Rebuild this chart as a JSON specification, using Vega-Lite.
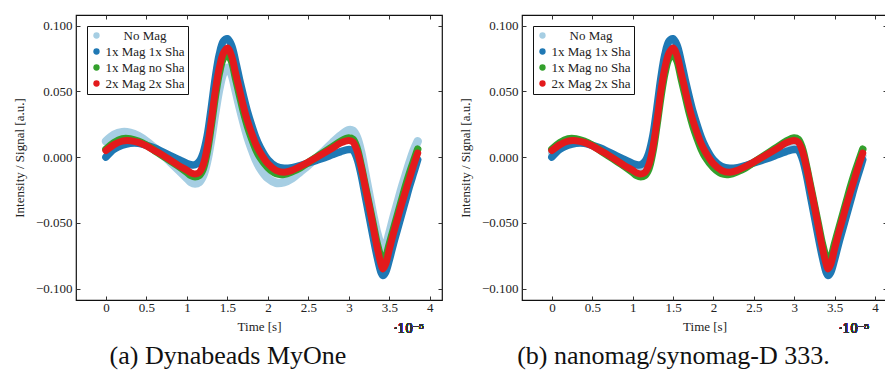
{
  "$schema": "https://vega.github.io/schema/vega-lite/v6.json",
  "padding": {"left": 12, "top": 13, "right": 0, "bottom": 0},
  "datasets": {
    "d": [
      {"t":0,"na":0.012,"nb":0.003,"b":0.000,"g":0.006,"r":0.005},
      {"t":0.1,"na":0.017,"nb":0.008,"b":0.006,"g":0.011,"r":0.0095},
      {"t":0.2,"na":0.019,"nb":0.011,"b":0.009,"g":0.0138,"r":0.0122},
      {"t":0.3,"na":0.0185,"nb":0.0117,"b":0.0105,"g":0.0138,"r":0.0125},
      {"t":0.4,"na":0.016,"nb":0.011,"b":0.0105,"g":0.012,"r":0.0112},
      {"t":0.5,"na":0.012,"nb":0.0087,"b":0.009,"g":0.009,"r":0.0085},
      {"t":0.6,"na":0.007,"nb":0.006,"b":0.007,"g":0.005,"r":0.005},
      {"t":0.7,"na":0.002,"nb":0.0025,"b":0.004,"g":0.001,"r":0.0015},
      {"t":0.8,"na":-0.004,"nb":-0.001,"b":0.001,"g":-0.003,"r":-0.0025},
      {"t":0.9,"na":-0.010,"nb":-0.0047,"b":-0.002,"g":-0.007,"r":-0.0065},
      {"t":1.0,"na":-0.016,"nb":-0.008,"b":-0.0048,"g":-0.0115,"r":-0.010},
      {"t":1.05,"na":-0.019,"nb":-0.0095,"b":-0.0058,"g":-0.014,"r":-0.012},
      {"t":1.1,"na":-0.020,"nb":-0.010,"b":-0.0058,"g":-0.015,"r":-0.0128},
      {"t":1.15,"na":-0.019,"nb":-0.0085,"b":-0.0035,"g":-0.014,"r":-0.0118},
      {"t":1.2,"na":-0.014,"nb":-0.003,"b":0.003,"g":-0.009,"r":-0.006},
      {"t":1.25,"na":-0.003,"nb":0.011,"b":0.016,"g":0.004,"r":0.007},
      {"t":1.3,"na":0.014,"nb":0.031,"b":0.037,"g":0.024,"r":0.027},
      {"t":1.35,"na":0.034,"nb":0.054,"b":0.060,"g":0.046,"r":0.050},
      {"t":1.4,"na":0.052,"nb":0.072,"b":0.078,"g":0.064,"r":0.068},
      {"t":1.45,"na":0.064,"nb":0.083,"b":0.088,"g":0.075,"r":0.079},
      {"t":1.5,"na":0.068,"nb":0.086,"b":0.090,"g":0.078,"r":0.083},
      {"t":1.55,"na":0.063,"nb":0.080,"b":0.085,"g":0.073,"r":0.077},
      {"t":1.6,"na":0.051,"nb":0.068,"b":0.073,"g":0.060,"r":0.064},
      {"t":1.65,"na":0.038,"nb":0.054,"b":0.059,"g":0.047,"r":0.051},
      {"t":1.7,"na":0.026,"nb":0.041,"b":0.046,"g":0.034,"r":0.038},
      {"t":1.75,"na":0.015,"nb":0.030,"b":0.034,"g":0.023,"r":0.027},
      {"t":1.8,"na":0.006,"nb":0.020,"b":0.024,"g":0.014,"r":0.018},
      {"t":1.85,"na":-0.002,"nb":0.012,"b":0.015,"g":0.006,"r":0.010},
      {"t":1.9,"na":-0.008,"nb":0.0055,"b":0.008,"g":0.000,"r":0.004},
      {"t":2.0,"na":-0.016,"nb":-0.0038,"b":-0.002,"g":-0.008,"r":-0.005},
      {"t":2.1,"na":-0.0195,"nb":-0.0088,"b":-0.007,"g":-0.0125,"r":-0.010},
      {"t":2.2,"na":-0.019,"nb":-0.010,"b":-0.0085,"g":-0.013,"r":-0.0115},
      {"t":2.3,"na":-0.016,"nb":-0.0092,"b":-0.008,"g":-0.011,"r":-0.010},
      {"t":2.4,"na":-0.011,"nb":-0.0068,"b":-0.0065,"g":-0.008,"r":-0.007},
      {"t":2.5,"na":-0.006,"nb":-0.004,"b":-0.0045,"g":-0.004,"r":-0.0038},
      {"t":2.6,"na":-0.0005,"nb":-0.0012,"b":-0.0025,"g":0.000,"r":-0.0003},
      {"t":2.7,"na":0.005,"nb":0.0017,"b":-0.0005,"g":0.004,"r":0.0033},
      {"t":2.8,"na":0.011,"nb":0.005,"b":0.002,"g":0.008,"r":0.007},
      {"t":2.9,"na":0.0165,"nb":0.0082,"b":0.0042,"g":0.012,"r":0.0108},
      {"t":3.0,"na":0.0205,"nb":0.0098,"b":0.0058,"g":0.0145,"r":0.0127},
      {"t":3.05,"na":0.020,"nb":0.009,"b":0.0052,"g":0.0135,"r":0.0115},
      {"t":3.1,"na":0.015,"nb":0.0025,"b":-0.001,"g":0.007,"r":0.005},
      {"t":3.15,"na":0.004,"nb":-0.0095,"b":-0.013,"g":-0.006,"r":-0.007},
      {"t":3.2,"na":-0.012,"nb":-0.025,"b":-0.029,"g":-0.021,"r":-0.022},
      {"t":3.25,"na":-0.028,"nb":-0.040,"b":-0.045,"g":-0.036,"r":-0.037},
      {"t":3.3,"na":-0.044,"nb":-0.056,"b":-0.061,"g":-0.051,"r":-0.053},
      {"t":3.35,"na":-0.058,"nb":-0.072,"b":-0.076,"g":-0.066,"r":-0.069},
      {"t":3.4,"na":-0.068,"nb":-0.084,"b":-0.088,"g":-0.077,"r":-0.082},
      {"t":3.42,"na":-0.070,"nb":-0.087,"b":-0.090,"g":-0.079,"r":-0.085},
      {"t":3.45,"na":-0.068,"nb":-0.085,"b":-0.088,"g":-0.077,"r":-0.082},
      {"t":3.5,"na":-0.058,"nb":-0.073,"b":-0.078,"g":-0.066,"r":-0.070},
      {"t":3.55,"na":-0.046,"nb":-0.061,"b":-0.066,"g":-0.055,"r":-0.058},
      {"t":3.6,"na":-0.035,"nb":-0.050,"b":-0.055,"g":-0.044,"r":-0.047},
      {"t":3.65,"na":-0.024,"nb":-0.039,"b":-0.044,"g":-0.033,"r":-0.036},
      {"t":3.7,"na":-0.014,"nb":-0.029,"b":-0.033,"g":-0.022,"r":-0.026},
      {"t":3.75,"na":-0.004,"nb":-0.018,"b":-0.022,"g":-0.012,"r":-0.016},
      {"t":3.8,"na":0.005,"nb":-0.008,"b":-0.012,"g":-0.003,"r":-0.006},
      {"t":3.85,"na":0.012,"nb":0.001,"b":-0.002,"g":0.006,"r":0.003}
    ]
  },
  "config": {
    "font": "Liberation Serif, Times New Roman, serif",
    "view": {"stroke": "#111", "strokeWidth": 1.2},
    "axis": {
      "labelFont": "Liberation Serif, Times New Roman, serif", "titleFont": "Liberation Serif, Times New Roman, serif",
      "labelFontSize": 13, "titleFontSize": 13, "titleFontWeight": "normal",
      "labelColor": "#222", "titleColor": "#222", "tickColor": "#333",
      "tickSize": -4, "tickWidth": 1, "domain": false, "grid": false, "labelPadding": 8
    },
    "axisX": {"labelPadding": 5},
    "legend": {
      "orient": "top-left", "offset": 11, "strokeColor": "#111", "strokeWidth": 1,
      "fillColor": "white", "padding": 3, "labelFont": "Liberation Serif, Times New Roman, serif",
      "labelFontSize": 13, "labelColor": "#222", "symbolType": "circle",
      "symbolSize": 40, "rowPadding": 2, "labelOffset": 42, "labelAlign": "center", "cornerRadius": 0
    },
    "title": {"font": "Liberation Serif, Times New Roman, serif", "fontSize": 26, "fontWeight": "normal", "color": "#111"}
  },
  "bounds": "flush",
  "spacing": 80,
  "resolve": {"legend": {"color": "independent"}},
  "hconcat": [
    {
      "width": 366, "height": 285,
      "title": {"text": "(a) Dynabeads MyOne", "orient": "bottom", "anchor": "middle", "frame": "bounds", "offset": 8},
      "data": {"name": "d"},
      "layer": [
        {"mark": {"type": "line", "strokeWidth": 8.5, "interpolate": "catmull-rom", "strokeCap": "round", "strokeJoin": "round"},
         "encoding": {
           "x": {"field": "t", "type": "quantitative", "scale": {"domain": [-0.37, 4.15], "nice": false, "zero": false},
                 "axis": {"values": [0,0.5,1,1.5,2,2.5,3,3.5,4], "format": "~g", "title": "Time [s]", "titlePadding": 6}},
           "y": {"field": "na", "type": "quantitative", "scale": {"domain": [-0.1086, 0.108], "nice": false, "zero": false},
                 "axis": {"values": [-0.1,-0.05,0,0.05,0.1], "format": ".3f", "title": "Intensity / Signal [a.u.]", "titlePadding": 9}},
           "color": {"datum": "No Mag", "type": "nominal",
                     "scale": {"domain": ["No Mag","1x Mag 1x Sha","1x Mag no Sha","2x Mag 2x Sha"], "range": ["#a6cee3","#1f78b4","#33a02c","#e31a1c"]},
                     "legend": {"title": null,
                                "encode": {"symbols": {"update": {"fill": {"scale": "color", "field": "value"}, "strokeWidth": {"value": 0}}}}}}
         }},
        {"mark": {"type": "line", "strokeWidth": 7.5, "interpolate": "catmull-rom", "strokeCap": "round", "strokeJoin": "round"},
         "encoding": {"x": {"field": "t", "type": "quantitative", "axis": null}, "y": {"field": "b", "type": "quantitative", "axis": null}, "color": {"datum": "1x Mag 1x Sha", "type": "nominal"}}},
        {"mark": {"type": "line", "strokeWidth": 7.5, "interpolate": "catmull-rom", "strokeCap": "round", "strokeJoin": "round"},
         "encoding": {"x": {"field": "t", "type": "quantitative", "axis": null}, "y": {"field": "g", "type": "quantitative", "axis": null}, "color": {"datum": "1x Mag no Sha", "type": "nominal"}}},
        {"mark": {"type": "line", "strokeWidth": 7, "interpolate": "catmull-rom", "strokeCap": "round", "strokeJoin": "round"},
         "encoding": {"x": {"field": "t", "type": "quantitative", "axis": null}, "y": {"field": "r", "type": "quantitative", "axis": null}, "color": {"datum": "2x Mag 2x Sha", "type": "nominal"}}},
        {"mark": {"type": "text", "text": "·10⁻⁵", "fontSize": 12, "font": "DejaVu Serif", "color": "#333", "align": "center", "baseline": "middle"},
         "encoding": {
           "x": {"datum": 3.74, "type": "quantitative", "axis": {"orient": "top", "labels": false, "title": null, "values": [0,0.5,1,1.5,2,2.5,3,3.5,4]}},
           "y": {"datum": -0.131, "type": "quantitative", "axis": {"orient": "right", "labels": false, "title": null, "values": [-0.1,-0.05,0,0.05,0.1]}}
         }}
      ],
      "resolve": {"axis": {"x": "independent", "y": "independent"}}
    },
    {
      "width": 365, "height": 285,
      "title": {"text": "(b) nanomag/synomag-D 333.", "orient": "bottom", "anchor": "middle", "frame": "bounds", "offset": 8},
      "data": {"name": "d"},
      "layer": [
        {"mark": {"type": "line", "strokeWidth": 7.5, "interpolate": "catmull-rom", "strokeCap": "round", "strokeJoin": "round"},
         "encoding": {
           "x": {"field": "t", "type": "quantitative", "scale": {"domain": [-0.37, 4.15], "nice": false, "zero": false},
                 "axis": {"values": [0,0.5,1,1.5,2,2.5,3,3.5,4], "format": "~g", "title": "Time [s]", "titlePadding": 6}},
           "y": {"field": "nb", "type": "quantitative", "scale": {"domain": [-0.1086, 0.108], "nice": false, "zero": false},
                 "axis": {"values": [-0.1,-0.05,0,0.05,0.1], "format": ".3f", "title": "Intensity / Signal [a.u.]", "titlePadding": 9}},
           "color": {"datum": "No Mag", "type": "nominal",
                     "scale": {"domain": ["No Mag","1x Mag 1x Sha","1x Mag no Sha","2x Mag 2x Sha"], "range": ["#a6cee3","#1f78b4","#33a02c","#e31a1c"]},
                     "legend": {"title": null,
                                "encode": {"symbols": {"update": {"fill": {"scale": "color", "field": "value"}, "strokeWidth": {"value": 0}}}}}}
         }},
        {"mark": {"type": "line", "strokeWidth": 7.5, "interpolate": "catmull-rom", "strokeCap": "round", "strokeJoin": "round"},
         "encoding": {"x": {"field": "t", "type": "quantitative", "axis": null}, "y": {"field": "b", "type": "quantitative", "axis": null}, "color": {"datum": "1x Mag 1x Sha", "type": "nominal"}}},
        {"mark": {"type": "line", "strokeWidth": 7.5, "interpolate": "catmull-rom", "strokeCap": "round", "strokeJoin": "round"},
         "encoding": {"x": {"field": "t", "type": "quantitative", "axis": null}, "y": {"field": "g", "type": "quantitative", "axis": null}, "color": {"datum": "1x Mag no Sha", "type": "nominal"}}},
        {"mark": {"type": "line", "strokeWidth": 7, "interpolate": "catmull-rom", "strokeCap": "round", "strokeJoin": "round"},
         "encoding": {"x": {"field": "t", "type": "quantitative", "axis": null}, "y": {"field": "r", "type": "quantitative", "axis": null}, "color": {"datum": "2x Mag 2x Sha", "type": "nominal"}}},
        {"mark": {"type": "text", "text": "·10⁻⁵", "fontSize": 12, "font": "DejaVu Serif", "color": "#333", "align": "center", "baseline": "middle"},
         "encoding": {
           "x": {"datum": 3.74, "type": "quantitative", "axis": {"orient": "top", "labels": false, "title": null, "values": [0,0.5,1,1.5,2,2.5,3,3.5,4]}},
           "y": {"datum": -0.131, "type": "quantitative", "axis": {"orient": "right", "labels": false, "title": null, "values": [-0.1,-0.05,0,0.05,0.1]}}
         }}
      ],
      "resolve": {"axis": {"x": "independent", "y": "independent"}}
    }
  ]
}
